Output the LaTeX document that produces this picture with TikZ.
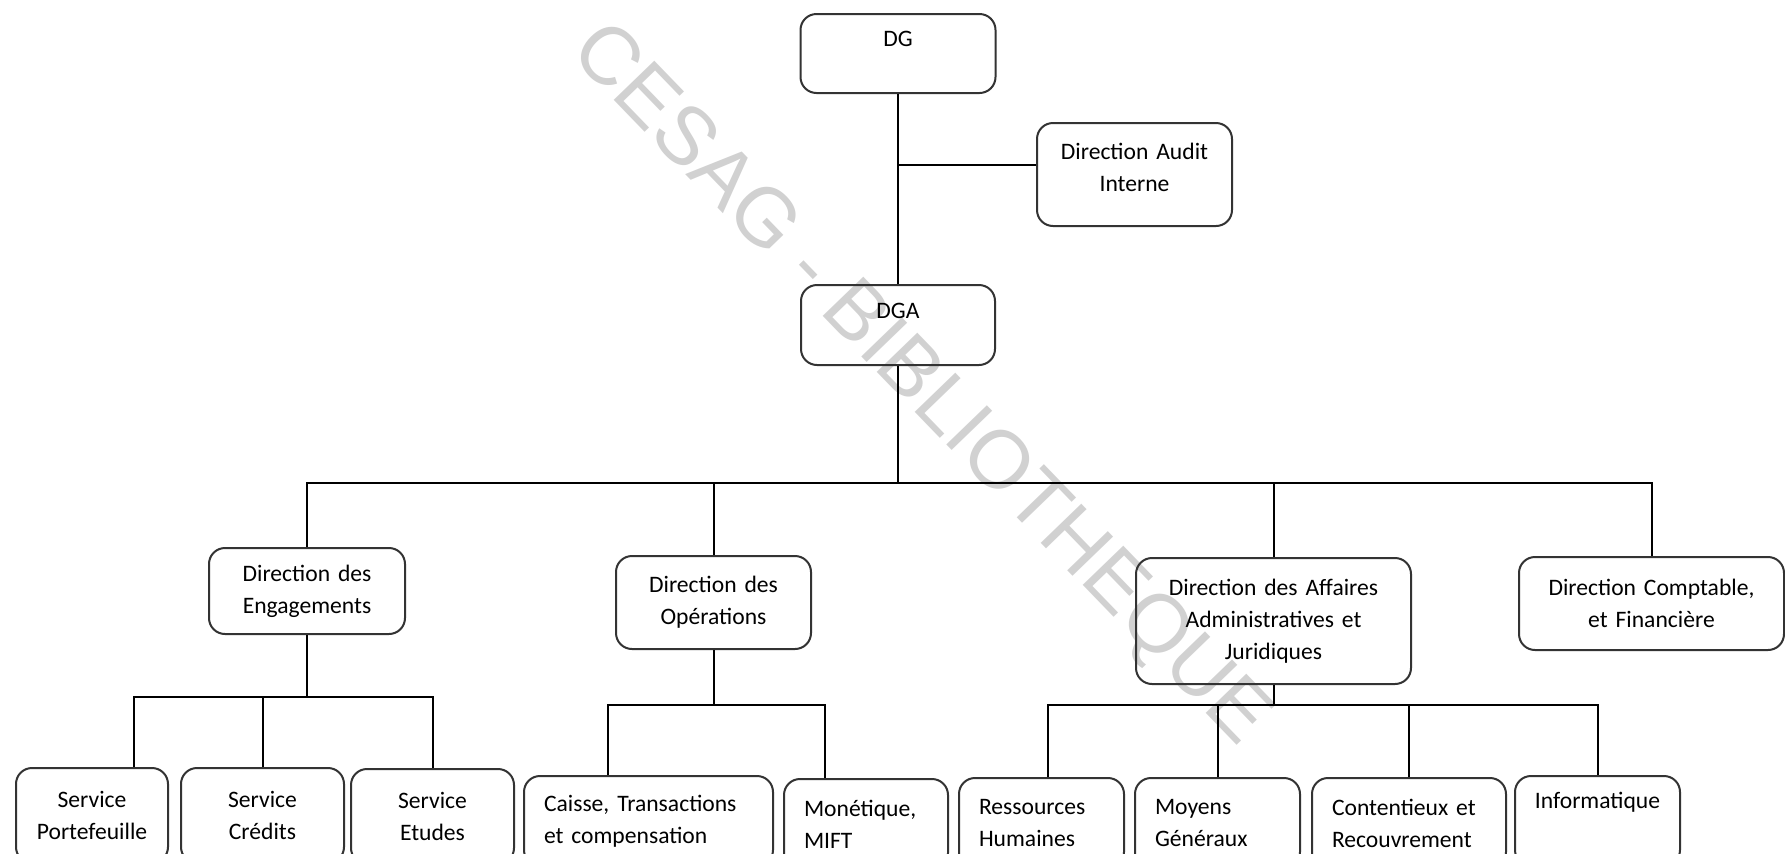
\documentclass[tikz,border=0pt]{standalone}
\usepackage{fontspec}
\setmainfont{Carlito}
\newfontfamily\wmfont{Liberation Sans}
\usetikzlibrary{calc}
\newcommand\orgfont{\fontsize{11.8pt}{16pt}\selectfont}

\begin{document}
\begin{tikzpicture}[
        x=0.5pt, y=-0.5pt,
        orgbox/.style n args={3}{draw=black!80, line width=1pt, rounded corners=8pt, anchor=north west, inner sep=0pt, font=\orgfont, minimum width=#1, minimum height=#2, text width=#3},
        midbox/.style n args={3}{orgbox={#1}{#2}{#3}, align=center},
        leftbox/.style n args={3}{orgbox={#1}{#2}{#3}, align=left},
        link/.style={line width=1pt},
        wmark/.style={font=\wmfont\fontsize{41pt}{41pt}\selectfont, text=black!18, rotate=-46}
    ]
        \useasboundingbox (0,0) rectangle (1785,853);
        \clip (0,0) rectangle (1785,853);
        \fill[white] (0,0) rectangle (1785,853);

        % watermark
        \node[wmark] (wm) at (919,386) {CESAG - BIBLIOTHEQUE};

        % top
        \node[midbox={97.5pt}{39.5pt}{92.5pt}] (dg) at (799.5,13) {DG\\[-6pt]\strut};
        \node[midbox={97.5pt}{51.5pt}{92.5pt}] (audit) at (1036,122) {Direction Audit\\Interne\\[-9pt]\mbox{}};
        \node[midbox={97pt}{40pt}{92pt}] (dga) at (800,284) {DGA\\[-7pt]\strut};

        % directions
        \node[midbox={98pt}{43pt}{93pt}] (eng) at (208,547) {Direction des\\Engagements};
        \node[midbox={97.5pt}{46.5pt}{92.5pt}] (ops) at (615,555) {Direction des\\Op\'erations};
        \node[midbox={137.5pt}{63pt}{132.5pt}] (aff) at (1135,557) {Direction des Affaires\\Administratives et\\Juridiques};
        \node[midbox={132.5pt}{46.5pt}{127.5pt}] (comp) at (1518,556) {Direction Comptable,\\et Financi\`ere};

        % services
        \node[midbox={76pt}{47.5pt}{71pt}] (sp) at (15,767) {Service\\Portefeuille};
        \node[midbox={81.5pt}{47.5pt}{76.5pt}] (sc) at (180,767) {Service\\Cr\'edits};
        \node[midbox={81.5pt}{47.5pt}{76.5pt}] (se) at (350,768) {Service\\Etudes};
        \node[leftbox={124.5pt}{45pt}{104.5pt}] (caisse) at (523,775) {Caisse, Transactions\\et compensation};
        \node[leftbox={82pt}{45pt}{62pt}] (mon) at (783,778) {Mon\'etique,\\MIFT};
        \node[leftbox={82.5pt}{45pt}{62.5pt}] (rh) at (958,777) {Ressources\\Humaines};
        \node[leftbox={82.5pt}{45pt}{62.5pt}] (mg) at (1134,777) {Moyens\\G\'en\'eraux};
        \node[leftbox={97pt}{45pt}{77pt}] (cr) at (1311,777) {Contentieux et\\Recouvrement};
        \node[midbox={82.5pt}{45pt}{77.5pt}] (info) at (1514,775) {Informatique\\\strut};

        \coordinate (audj) at (897,165);
        \coordinate (bus) at (897,483);
        \coordinate (engbus) at (306,697);
        \coordinate (opsbus) at (713,705);
        \coordinate (affbus) at (1271,705);
        \coordinate (spj) at ($(sp.north)+(42,0)$);
        \coordinate (cj) at ($(caisse.north)+(-40.5,0)$);
        \coordinate (mj) at ($(mon.north)+(-41,0)$);
        \coordinate (rhj) at ($(rh.north)+(6.5,0)$);

        \draw[link] (dg) -- (dga);
        \draw[link] (audj) -- (audj -| audit.west);
        \draw[link] (dga) -- (dga |- bus);
        \draw[link] (eng.north) |- (comp.north |- bus) -- (comp.north);
        \draw[link] (ops.north) -- (ops.north |- bus);
        \draw[link] (aff.north) -- (aff.north |- bus);

        \draw[link] (eng) -- (eng |- engbus);
        \draw[link] (spj) |- (se.north |- engbus) -- (se.north);
        \draw[link] (sc.north) -- (sc.north |- engbus);

        \draw[link] (ops) -- (ops |- opsbus);
        \draw[link] (cj) |- (mj |- opsbus) -- (mj);

        \draw[link] (aff) -- (aff |- affbus);
        \draw[link] (rhj) |- (info.north |- affbus) -- (info.north);
        \draw[link] (mg.north) -- (mg.north |- affbus);
        \draw[link] (cr.north) -- (cr.north |- affbus);
    \end{tikzpicture}
\end{document}
